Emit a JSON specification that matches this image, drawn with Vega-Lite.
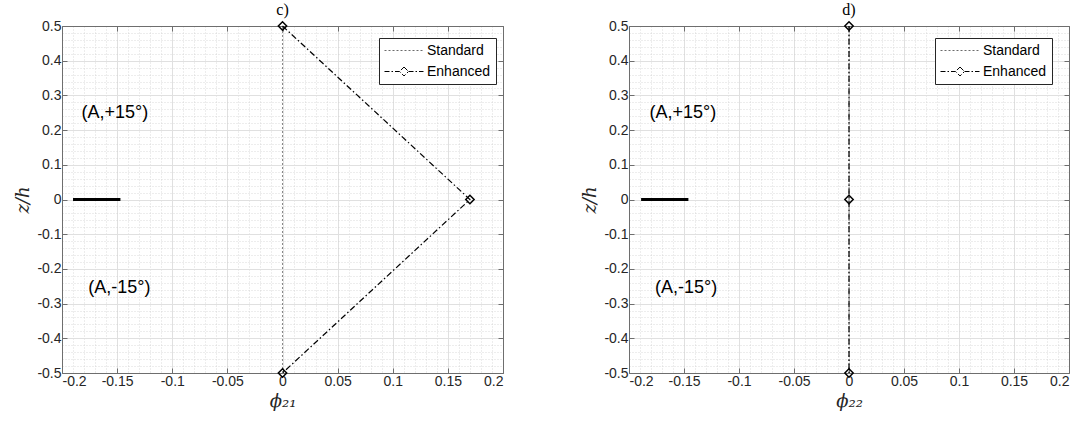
{
  "$schema": "https://vega.github.io/schema/vega-lite/v6.json",
  "background": "white",
  "padding": {"left": 14, "top": 1, "right": 5, "bottom": 5},
  "config": {
    "font": "Liberation Sans",
    "view": {"stroke": null},
    "title": {"font": "Liberation Serif", "fontSize": 16, "fontWeight": "normal", "color": "black", "offset": 1, "anchor": "middle"},
    "axis": {
      "domainColor": "#6e6e6e", "domainWidth": 1, "tickColor": "#6e6e6e", "tickSize": -5, "tickWidth": 1,
      "labelColor": "#262626", "labelFontSize": 14, "labelFont": "Liberation Sans", "labelPadding": 6,
      "gridColor": "#e0e0e0", "gridWidth": 1,
      "titleFont": "DejaVu Serif", "titleFontStyle": "italic", "titleFontWeight": "normal", "titleFontSize": 18, "titleColor": "#262626", "titlePadding": 4
    },
    "legend": {
      "orient": "none", "padding": 5, "strokeColor": "#262626", "fillColor": "white",
      "labelFont": "Liberation Sans", "labelFontSize": 14, "labelColor": "black", "symbolSize": 196,
      "symbolStrokeWidth": 1, "rowPadding": 6, "labelOffset": 28
    }
  },
  "datasets": {
    "lines_c": [
      {"series": "Standard", "phi": 0, "z": -0.5, "i": 1},
      {"series": "Standard", "phi": 0, "z": 0.5, "i": 2},
      {"series": "Enhanced", "phi": 0, "z": 0.5, "i": 1},
      {"series": "Enhanced", "phi": 0.17, "z": 0, "i": 2},
      {"series": "Enhanced", "phi": 0, "z": -0.5, "i": 3}
    ],
    "lines_d": [
      {"series": "Standard", "phi": 0, "z": -0.5, "i": 1},
      {"series": "Standard", "phi": 0, "z": 0.5, "i": 2},
      {"series": "Enhanced", "phi": 0, "z": 0.5, "i": 1},
      {"series": "Enhanced", "phi": 0, "z": 0, "i": 2},
      {"series": "Enhanced", "phi": 0, "z": -0.5, "i": 3}
    ],
    "labels_c": [
      {"phi": -0.152, "z": 0.25, "label": "(A,+15°)"},
      {"phi": -0.148, "z": -0.255, "label": "(A,-15°)"}
    ],
    "labels_d": [
      {"phi": -0.151, "z": 0.25, "label": "(A,+15°)"},
      {"phi": -0.148, "z": -0.255, "label": "(A,-15°)"}
    ],
    "bar_c": [{"phi": -0.19, "phi2": -0.147, "z": 0}],
    "bar_d": [{"phi": -0.189, "phi2": -0.146, "z": 0}]
  },
  "resolve": {
    "scale": {"color": "independent", "shape": "independent", "strokeDash": "independent"},
    "legend": {"color": "independent", "shape": "independent", "strokeDash": "independent"}
  },
  "spacing": 77,
  "hconcat": [
    {
      "width": 441, "height": 347,
      "title": {"text": "c)"},
      "resolve": {"axis": {"x": "independent", "y": "independent"}},
      "layer": [
        {
          "data": {"name": "lines_c"},
          "transform": [{"filter": "datum.series == 'Standard'"}],
          "mark": {"type": "line", "color": "#6b6b6b", "strokeWidth": 0.8, "strokeDash": [2, 2]},
          "encoding": {
            "x": {"field": "phi", "type": "quantitative", "scale": {"domain": [-0.2, 0.2], "nice": false, "zero": false},
              "axis": {"orient": "bottom", "values": [-0.2,-0.19,-0.18,-0.17,-0.16,-0.15,-0.14,-0.13,-0.12,-0.11,-0.1,-0.09,-0.08,-0.07,-0.06,-0.05,-0.04,-0.03,-0.02,-0.01,0,0.01,0.02,0.03,0.04,0.05,0.06,0.07,0.08,0.09,0.1,0.11,0.12,0.13,0.14,0.15,0.16,0.17,0.18,0.19,0.2],
                "grid": true, "gridDash": [1, 2], "gridColor": "#cccccc", "gridWidth": 0.7, "domain": false, "ticks": false, "labels": false, "title": null}},
            "y": {"field": "z", "type": "quantitative", "scale": {"domain": [-0.5, 0.5], "nice": false, "zero": false},
              "axis": {"orient": "left", "values": [-0.5,-0.48,-0.46,-0.44,-0.42,-0.4,-0.38,-0.36,-0.34,-0.32,-0.3,-0.28,-0.26,-0.24,-0.22,-0.2,-0.18,-0.16,-0.14,-0.12,-0.1,-0.08,-0.06,-0.04,-0.02,0,0.02,0.04,0.06,0.08,0.1,0.12,0.14,0.16,0.18,0.2,0.22,0.24,0.26,0.28,0.3,0.32,0.34,0.36,0.38,0.4,0.42,0.44,0.46,0.48,0.5],
                "grid": true, "gridDash": [1, 2], "gridColor": "#cccccc", "gridWidth": 0.7, "domain": false, "ticks": false, "labels": false, "title": null}},
            "order": {"field": "i", "type": "quantitative"}
          }
        },
        {
          "data": {"name": "lines_c"},
          "transform": [{"filter": "datum.series == 'Enhanced'"}],
          "mark": {"type": "line", "color": "black", "strokeWidth": 1.2, "strokeDash": [6, 2.5, 1.5, 2.5]},
          "encoding": {
            "x": {"field": "phi", "type": "quantitative",
              "axis": {"orient": "bottom", "values": [-0.2,-0.15,-0.1,-0.05,0,0.05,0.1,0.15,0.2], "labelExpr": "datum.value + ''", "grid": true, "title": "ϕ₂₁"}},
            "y": {"field": "z", "type": "quantitative",
              "axis": {"orient": "left", "values": [-0.5,-0.4,-0.3,-0.2,-0.1,0,0.1,0.2,0.3,0.4,0.5], "labelExpr": "datum.value + ''", "grid": true, "title": "z/h"}},
            "order": {"field": "i", "type": "quantitative"}
          }
        },
        {
          "data": {"name": "lines_c"},
          "transform": [{"filter": "datum.series == 'Enhanced'"}],
          "mark": {"type": "point", "shape": "diamond", "filled": false, "color": "black", "size": 70, "strokeWidth": 1.5, "opacity": 1},
          "encoding": {
            "x": {"field": "phi", "type": "quantitative",
              "axis": {"orient": "top", "values": [-0.2,-0.15,-0.1,-0.05,0,0.05,0.1,0.15,0.2], "labels": false, "grid": false, "title": null}},
            "y": {"field": "z", "type": "quantitative",
              "axis": {"orient": "right", "values": [-0.5,-0.4,-0.3,-0.2,-0.1,0,0.1,0.2,0.3,0.4,0.5], "labels": false, "grid": false, "title": null}}
          }
        },
        {
          "data": {"name": "bar_c"},
          "mark": {"type": "rule", "color": "black", "strokeWidth": 3},
          "encoding": {
            "x": {"field": "phi", "type": "quantitative", "axis": null},
            "x2": {"field": "phi2"},
            "y": {"field": "z", "type": "quantitative", "axis": null}
          }
        },
        {
          "data": {"name": "labels_c"},
          "mark": {"type": "text", "font": "Liberation Sans", "fontSize": 18, "color": "black", "align": "center", "baseline": "middle"},
          "encoding": {
            "x": {"field": "phi", "type": "quantitative", "axis": null},
            "y": {"field": "z", "type": "quantitative", "axis": null},
            "text": {"field": "label"}
          }
        },
        {
          "data": {"name": "lines_c"},
          "mark": {"type": "point", "opacity": 0, "filled": false},
          "encoding": {
            "x": {"field": "phi", "type": "quantitative", "axis": null},
            "y": {"field": "z", "type": "quantitative", "axis": null},
            "shape": {"field": "series", "type": "nominal", "scale": {"domain": ["Standard", "Enhanced"], "range": ["M-1,0L4.57,0", "M-1,0L1.15,0M2.43,0L4.57,0M1.79,-0.64L2.43,0L1.79,0.64L1.15,0Z"]}, "legend": {"title": null, "legendX": 317, "legendY": 12}},
            "color": {"field": "series", "type": "nominal", "scale": {"domain": ["Standard", "Enhanced"], "range": ["#6b6b6b", "black"]}, "legend": {"title": null, "legendX": 317, "legendY": 12}},
            "strokeDash": {"field": "series", "type": "nominal", "scale": {"domain": ["Standard", "Enhanced"], "range": [[2, 2], [5, 2, 1.5, 2]]}, "legend": {"title": null, "legendX": 317, "legendY": 12}}
          }
        }
      ]
    },
    {
      "width": 440, "height": 347,
      "title": {"text": "d)"},
      "resolve": {"axis": {"x": "independent", "y": "independent"}},
      "layer": [
        {
          "data": {"name": "lines_d"},
          "transform": [{"filter": "datum.series == 'Standard'"}],
          "mark": {"type": "line", "color": "#6b6b6b", "strokeWidth": 0.8, "strokeDash": [2, 2]},
          "encoding": {
            "x": {"field": "phi", "type": "quantitative", "scale": {"domain": [-0.2, 0.2], "nice": false, "zero": false},
              "axis": {"orient": "bottom", "values": [-0.2,-0.19,-0.18,-0.17,-0.16,-0.15,-0.14,-0.13,-0.12,-0.11,-0.1,-0.09,-0.08,-0.07,-0.06,-0.05,-0.04,-0.03,-0.02,-0.01,0,0.01,0.02,0.03,0.04,0.05,0.06,0.07,0.08,0.09,0.1,0.11,0.12,0.13,0.14,0.15,0.16,0.17,0.18,0.19,0.2],
                "grid": true, "gridDash": [1, 2], "gridColor": "#cccccc", "gridWidth": 0.7, "domain": false, "ticks": false, "labels": false, "title": null}},
            "y": {"field": "z", "type": "quantitative", "scale": {"domain": [-0.5, 0.5], "nice": false, "zero": false},
              "axis": {"orient": "left", "values": [-0.5,-0.48,-0.46,-0.44,-0.42,-0.4,-0.38,-0.36,-0.34,-0.32,-0.3,-0.28,-0.26,-0.24,-0.22,-0.2,-0.18,-0.16,-0.14,-0.12,-0.1,-0.08,-0.06,-0.04,-0.02,0,0.02,0.04,0.06,0.08,0.1,0.12,0.14,0.16,0.18,0.2,0.22,0.24,0.26,0.28,0.3,0.32,0.34,0.36,0.38,0.4,0.42,0.44,0.46,0.48,0.5],
                "grid": true, "gridDash": [1, 2], "gridColor": "#cccccc", "gridWidth": 0.7, "domain": false, "ticks": false, "labels": false, "title": null}},
            "order": {"field": "i", "type": "quantitative"}
          }
        },
        {
          "data": {"name": "lines_d"},
          "transform": [{"filter": "datum.series == 'Enhanced'"}],
          "mark": {"type": "line", "color": "black", "strokeWidth": 1.2, "strokeDash": [6, 2.5, 1.5, 2.5]},
          "encoding": {
            "x": {"field": "phi", "type": "quantitative",
              "axis": {"orient": "bottom", "values": [-0.2,-0.15,-0.1,-0.05,0,0.05,0.1,0.15,0.2], "labelExpr": "datum.value + ''", "grid": true, "title": "ϕ₂₂"}},
            "y": {"field": "z", "type": "quantitative",
              "axis": {"orient": "left", "values": [-0.5,-0.4,-0.3,-0.2,-0.1,0,0.1,0.2,0.3,0.4,0.5], "labelExpr": "datum.value + ''", "grid": true, "title": "z/h"}},
            "order": {"field": "i", "type": "quantitative"}
          }
        },
        {
          "data": {"name": "lines_d"},
          "transform": [{"filter": "datum.series == 'Enhanced'"}],
          "mark": {"type": "point", "shape": "diamond", "filled": false, "color": "black", "size": 70, "strokeWidth": 1.5, "opacity": 1},
          "encoding": {
            "x": {"field": "phi", "type": "quantitative",
              "axis": {"orient": "top", "values": [-0.2,-0.15,-0.1,-0.05,0,0.05,0.1,0.15,0.2], "labels": false, "grid": false, "title": null}},
            "y": {"field": "z", "type": "quantitative",
              "axis": {"orient": "right", "values": [-0.5,-0.4,-0.3,-0.2,-0.1,0,0.1,0.2,0.3,0.4,0.5], "labels": false, "grid": false, "title": null}}
          }
        },
        {
          "data": {"name": "bar_d"},
          "mark": {"type": "rule", "color": "black", "strokeWidth": 3},
          "encoding": {
            "x": {"field": "phi", "type": "quantitative", "axis": null},
            "x2": {"field": "phi2"},
            "y": {"field": "z", "type": "quantitative", "axis": null}
          }
        },
        {
          "data": {"name": "labels_d"},
          "mark": {"type": "text", "font": "Liberation Sans", "fontSize": 18, "color": "black", "align": "center", "baseline": "middle"},
          "encoding": {
            "x": {"field": "phi", "type": "quantitative", "axis": null},
            "y": {"field": "z", "type": "quantitative", "axis": null},
            "text": {"field": "label"}
          }
        },
        {
          "data": {"name": "lines_d"},
          "mark": {"type": "point", "opacity": 0, "filled": false},
          "encoding": {
            "x": {"field": "phi", "type": "quantitative", "axis": null},
            "y": {"field": "z", "type": "quantitative", "axis": null},
            "shape": {"field": "series", "type": "nominal", "scale": {"domain": ["Standard", "Enhanced"], "range": ["M-1,0L4.57,0", "M-1,0L1.15,0M2.43,0L4.57,0M1.79,-0.64L2.43,0L1.79,0.64L1.15,0Z"]}, "legend": {"title": null, "legendX": 306, "legendY": 12}},
            "color": {"field": "series", "type": "nominal", "scale": {"domain": ["Standard", "Enhanced"], "range": ["#6b6b6b", "black"]}, "legend": {"title": null, "legendX": 306, "legendY": 12}},
            "strokeDash": {"field": "series", "type": "nominal", "scale": {"domain": ["Standard", "Enhanced"], "range": [[2, 2], [5, 2, 1.5, 2]]}, "legend": {"title": null, "legendX": 306, "legendY": 12}}
          }
        }
      ]
    }
  ]
}
